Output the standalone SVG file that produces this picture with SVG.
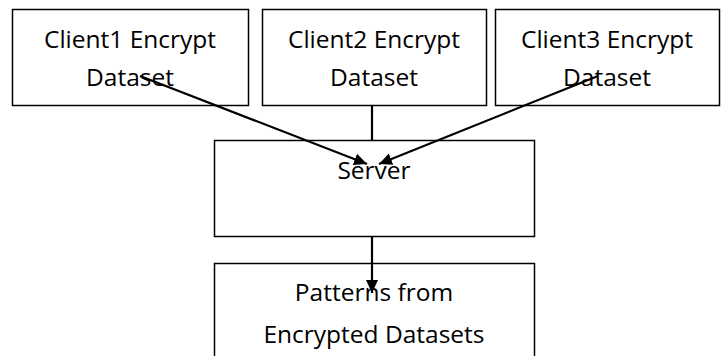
<svg xmlns="http://www.w3.org/2000/svg" width="727" height="356" viewBox="0 0 727 356">
<style>
.box{fill:#fff;stroke:#000;stroke-width:1.5}
.t{font-family:"Open Sans","Liberation Sans",sans-serif;font-size:24.5px;fill:#000;text-anchor:middle}
.c{stroke:#000;stroke-width:2.2;fill:none}
</style>
<defs>
<marker id="ah" markerWidth="14" markerHeight="14" refX="13" refY="6" orient="auto" markerUnits="userSpaceOnUse">
<path d="M0,0 L13,6 L0,12 z" fill="#000"/>
</marker>
</defs>
<g id="client1"><rect class="box" x="12.5" y="9.5" width="236" height="96"/><text class="t" x="130" y="48">Client1 Encrypt</text><text class="t" x="130" y="86">Dataset</text></g>
<g id="client2"><rect class="box" x="262.5" y="9.5" width="224" height="96"/><text class="t" x="374" y="48">Client2 Encrypt</text><text class="t" x="374" y="86">Dataset</text></g>
<g id="client3"><rect class="box" x="495.5" y="9.5" width="224" height="96"/><text class="t" x="607" y="48">Client3 Encrypt</text><text class="t" x="607" y="86">Dataset</text></g>
<g id="server"><rect class="box" x="214.5" y="140.5" width="320" height="96"/><text class="t" x="374" y="179">Server</text></g>
<g id="patterns"><rect class="box" x="214.5" y="263.5" width="320" height="100"/><text class="t" x="374" y="301">Patterns from</text><text class="t" x="374" y="343">Encrypted Datasets</text></g>
<g id="connectors">
<line class="c" x1="372" y1="105" x2="372" y2="140"/>
<line class="c" x1="140" y1="76" x2="367" y2="164" marker-end="url(#ah)"/>
<line class="c" x1="598" y1="76" x2="379" y2="164" marker-end="url(#ah)"/>
<line class="c" x1="372" y1="236" x2="372" y2="293" marker-end="url(#ah)"/>
</g>
</svg>
